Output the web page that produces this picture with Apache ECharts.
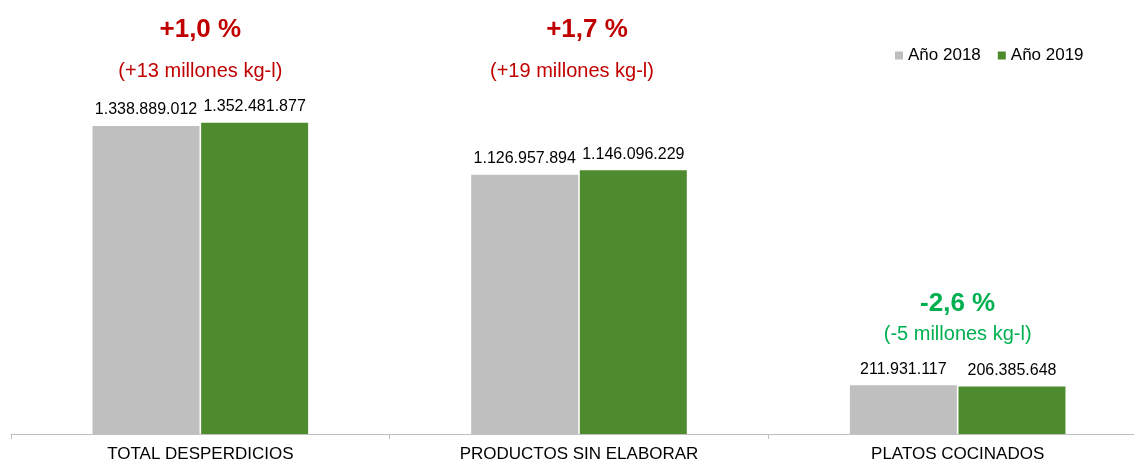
<!DOCTYPE html>
<html lang="es">
<head>
    <meta charset="UTF-8">
    <title>Desperdicios</title>
    <script src="https://cdn.jsdelivr.net/npm/echarts@6/dist/echarts.min.js"></script>
    <style>
        body { margin: 0; background: #fff; }
    </style>
</head>
<body>
    <div id="main" style="width: 1134px;height: 459px;"></div>
    <script>
        var categories = ['TOTAL DESPERDICIOS', 'PRODUCTOS SIN ELABORAR', 'PLATOS COCINADOS'];
        var values2018 = [1338889012, 1126957894, 211931117];
        var values2019 = [1352481877, 1146096229, 206385648];
        var changePct = ['+1,0 %', '+1,7 %', '-2,6 %'];
        var changeAbs = ['(+13 millones kg-l)', '(+19 millones kg-l)', '(-5 millones kg-l)'];
        var changeUp = [true, true, false];

        var chart = echarts.init(document.getElementById('main'));
        var font = '"Liberation Sans", Arial, sans-serif';

        function fmt(v) {
            return String(v).replace(/\B(?=(\d{3})+(?!\d))/g, '.');
        }

        var barLabel = {
            show: true,
            position: 'top',
            distance: 8,
            fontFamily: font,
            fontSize: 16,
            color: '#000',
            formatter: function (p) { return fmt(p.value); }
        };

        chart.setOption({
            animation: false,
            textStyle: { fontFamily: font },
            legend: {
                data: ['Año 2018', 'Año 2019'],
                left: 895,
                top: 47,
                padding: 0,
                icon: 'rect',
                itemWidth: 8,
                itemHeight: 8,
                itemGap: 17,
                textStyle: { fontSize: 17, color: '#000', fontFamily: font }
            },
            // plot runs a little past the right edge, like the original slide
            grid: { left: 11, width: 1136, top: 0, bottom: 25, outerBoundsMode: 'none', containLabel: false },
            xAxis: {
                type: 'category',
                data: categories,
                axisLine: { lineStyle: { color: '#BFBFBF' } },
                axisTick: { show: true, length: 5, lineStyle: { color: '#BFBFBF' } },
                axisLabel: { interval: 0, fontSize: 17, color: '#000', margin: 12, fontFamily: font }
            },
            yAxis: {
                type: 'value',
                min: 0,
                max: 1886000000,
                show: false,
                splitLine: { show: false }
            },
            series: [{
                name: 'Año 2018',
                type: 'bar',
                data: values2018,
                barWidth: 107,
                barGap: '1.5%',
                itemStyle: { color: '#BFBFBF' },
                label: barLabel
            }, {
                name: 'Año 2019',
                type: 'bar',
                data: values2019,
                barWidth: 107,
                itemStyle: { color: '#4E8B2E' },
                label: barLabel
            }]
        });

        // change annotations above each group
        var rowY = [[30, 71], [30, 71], [304, 334]];
        var gfx = [];
        categories.forEach(function (c, i) {
            var x = chart.convertToPixel({ xAxisIndex: 0 }, i);
            var col = changeUp[i] ? '#C00000' : '#00B050';
            gfx.push({
                type: 'text', x: x + (i === 1 ? 8 : 0), y: rowY[i][0],
                style: {
                    text: changePct[i], fill: col, font: 'bold 26px ' + font,
                    textAlign: 'center', textVerticalAlign: 'middle'
                }
            });
            gfx.push({
                type: 'text', x: x + (i === 1 ? -7 : 0), y: rowY[i][1],
                style: {
                    text: changeAbs[i], fill: col, font: '20px ' + font,
                    textAlign: 'center', textVerticalAlign: 'middle'
                }
            });
        });
        chart.setOption({ graphic: gfx });
    </script>
</body>
</html>
